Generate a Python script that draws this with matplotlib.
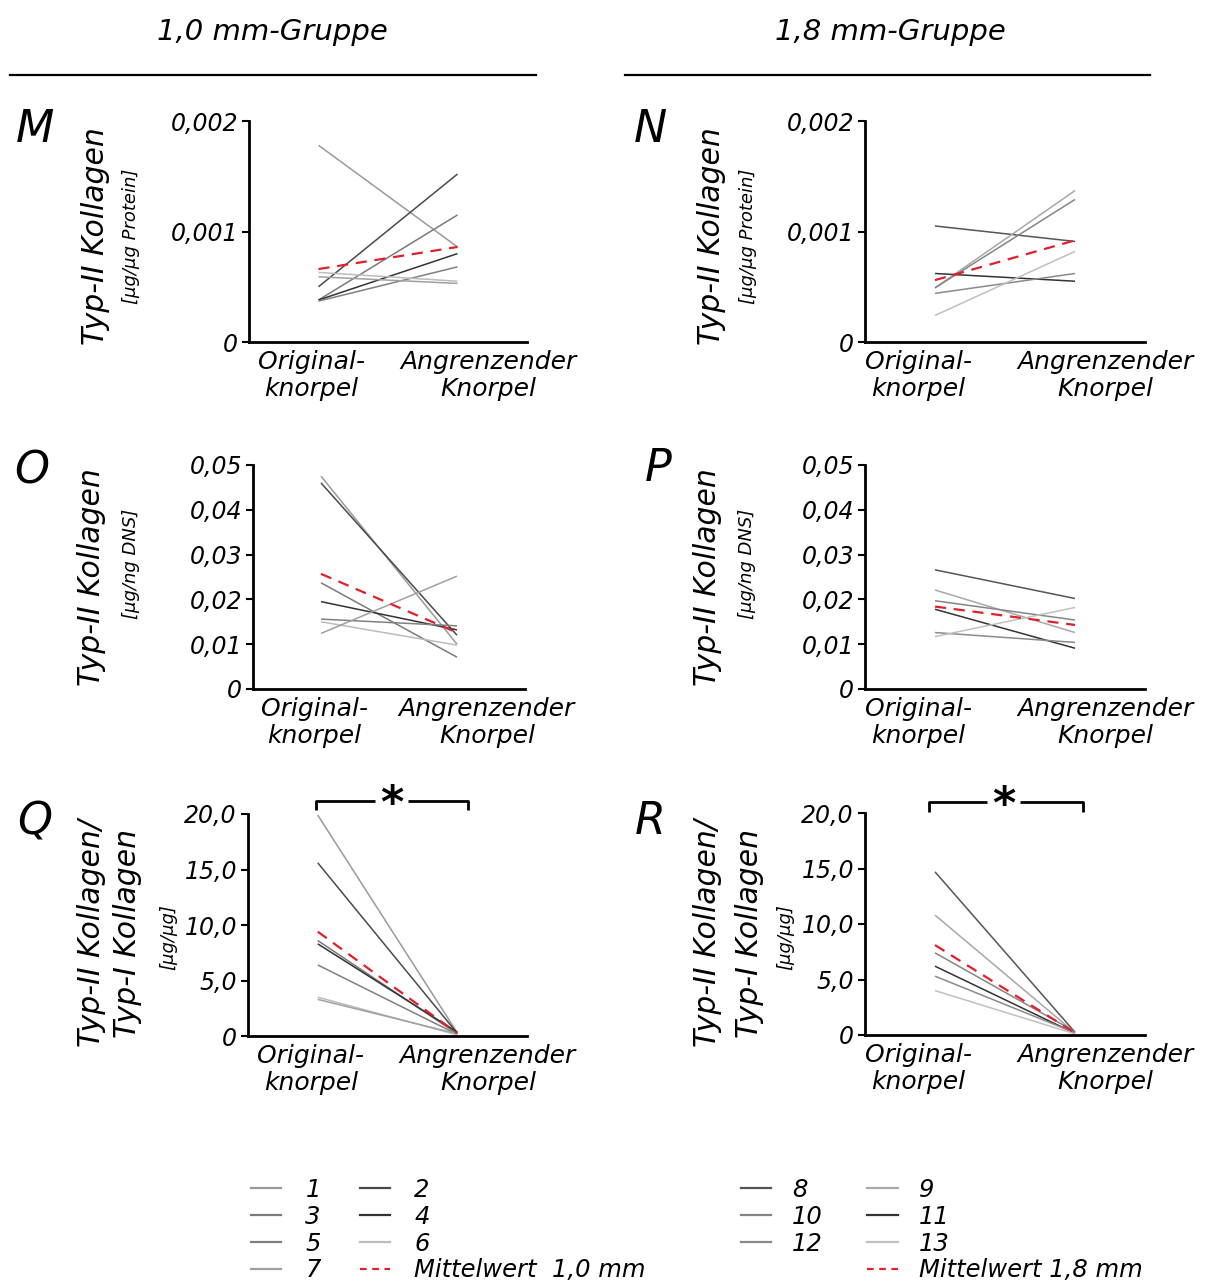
import matplotlib
matplotlib.use("Agg")
import matplotlib.pyplot as plt
from matplotlib.lines import Line2D

plt.rcParams['font.family'] = ['DejaVu Sans']
plt.rcParams['font.style'] = 'italic'

# data: value at "Original-knorpel" and at "Angrenzender Knorpel"
subj_10 = ['1', '2', '3', '4', '5', '6', '7']
subj_18 = ['8', '9', '10', '11', '12', '13']
col_10 = ['#9a9a9a', '#4a4a4a', '#7a7a7a', '#333333', '#808080', '#bcbcbc', '#a0a0a0']
col_18 = ['#555555', '#a8a8a8', '#858585', '#333333', '#8a8a8a', '#c0c0c0']

# Typ-II Kollagen [µg/µg Protein]
m_orig = [0.00178, 0.00050, 0.00038, 0.00038, 0.00037, 0.00063, 0.00059]
m_angr = [0.00086, 0.00152, 0.00115, 0.00080, 0.00068, 0.00055, 0.00053]
m_mean = [0.00066, 0.00086]
n_orig = [0.00105, 0.00049, 0.00049, 0.00062, 0.00044, 0.00024]
n_angr = [0.00091, 0.00137, 0.00129, 0.00055, 0.00062, 0.00082]
n_mean = [0.00056, 0.00092]

# Typ-II Kollagen [µg/ng DNS]
o_orig = [0.0475, 0.0460, 0.0237, 0.0195, 0.0156, 0.0150, 0.0124]
o_angr = [0.0100, 0.0120, 0.0071, 0.0132, 0.0141, 0.0098, 0.0252]
o_mean = [0.0257, 0.0126]
p_orig = [0.0266, 0.0221, 0.0197, 0.0178, 0.0126, 0.0117]
p_angr = [0.0202, 0.0126, 0.0154, 0.0091, 0.0104, 0.0182]
p_mean = [0.0184, 0.0143]

# Typ-II / Typ-I Kollagen [µg/µg]
q_orig = [19.9, 15.6, 8.6, 8.3, 6.4, 3.5, 3.3]
q_angr = [0.30, 0.25, 0.20, 0.35, 0.15, 0.10, 0.20]
q_mean = [9.4, 0.25]
r_orig = [14.7, 10.8, 7.4, 6.2, 5.3, 4.0]
r_angr = [0.25, 0.20, 0.30, 0.15, 0.20, 0.10]
r_mean = [8.1, 0.2]

xlabels = ['Original-\nknorpel', 'Angrenzender\nKnorpel']

W, H = 1205, 1283
fig = plt.figure(figsize=(W / 100, H / 100), dpi=100)


def add_ax(x0, y_top, x1, y_bot):
    return fig.add_axes([x0 / W, 1 - y_bot / H, (x1 - x0) / W, (y_bot - y_top) / H])


def panel(ax, orig, angr, mean, colors, ylim, yticks, yticklabels, xlab_pos):
    for o, a, c in zip(orig, angr, colors):
        ax.plot([0, 1], [o, a], color=c, lw=1.1, solid_capstyle='butt')
    ax.plot([0, 1], mean, color='#e0202a', lw=1.6, ls=(0, (5, 3.5)))
    ax.set_xlim(-0.5, 1.5)
    ax.set_ylim(*ylim)
    ax.set_yticks(yticks)
    ax.set_yticklabels(yticklabels, fontsize=17)
    ax.set_xticks(xlab_pos)
    ax.set_xticklabels(xlabels, fontsize=18, linespacing=1.12)
    ax.tick_params(axis='x', length=0, pad=6)
    ax.tick_params(axis='y', length=5, width=1.5, pad=3)
    for s in ['top', 'right']:
        ax.spines[s].set_visible(False)
    for s in ['left', 'bottom']:
        ax.spines[s].set_linewidth(2)


axM = add_ax(249, 121, 527, 342)
panel(axM, m_orig, m_angr, m_mean, col_10, (0, 0.002), [0, 0.001, 0.002],
      ['0', '0,001', '0,002'], [-0.05, 1.22])
axN = add_ax(865, 121, 1145, 342)
panel(axN, n_orig, n_angr, n_mean, col_18, (0, 0.002), [0, 0.001, 0.002],
      ['0', '0,001', '0,002'], [-0.12, 1.22])

dns_ticks = [0, 0.01, 0.02, 0.03, 0.04, 0.05]
dns_labels = ['0', '0,01', '0,02', '0,03', '0,04', '0,05']
axO = add_ax(253, 465, 525, 689)
panel(axO, o_orig, o_angr, o_mean, col_10, (0, 0.05), dns_ticks, dns_labels, [-0.05, 1.22])
axP = add_ax(865, 465, 1145, 689)
panel(axP, p_orig, p_angr, p_mean, col_18, (0, 0.05), dns_ticks, dns_labels, [-0.12, 1.22])

rat_ticks = [0, 5, 10, 15, 20]
rat_labels = ['0', '5,0', '10,0', '15,0', '20,0']
axQ = add_ax(248, 814, 527, 1036)
panel(axQ, q_orig, q_angr, q_mean, col_10, (0, 20), rat_ticks, rat_labels, [-0.05, 1.22])
axR = add_ax(865, 813, 1145, 1035)
panel(axR, r_orig, r_angr, r_mean, col_18, (0, 20), rat_ticks, rat_labels, [-0.12, 1.22])


def bracket(ax, x0, x1, y_low, y_high, xs):
    kw = dict(color='black', lw=2, clip_on=False, solid_capstyle='butt')
    ax.plot([x0, x0, xs - 0.12], [y_low, y_high, y_high], **kw)
    ax.plot([xs + 0.12, x1, x1], [y_high, y_high, y_low], **kw)
    ax.text(xs, y_high - 0.35, '*', ha='center', va='center', fontsize=32,
            fontweight='bold', fontstyle='normal', clip_on=False)


bracket(axQ, -0.01, 1.08, 20.4, 21.2, 0.53)
bracket(axR, -0.04, 1.06, 20.1, 21.0, 0.49)


def ylab(xc, yc, text, size):
    fig.text(xc / W, 1 - yc / H, text, rotation=90, ha='center', va='center',
             fontsize=size)


for x_main, x_sub, yc, ys, sub in [(95, 131, 236, 236, '[µg/µg Protein]'),
                                  (712, 748, 236, 236, '[µg/µg Protein]'),
                                  (92, 131, 577, 564, '[µg/ng DNS]'),
                                  (708, 747, 577, 564, '[µg/ng DNS]')]:
    ylab(x_main, yc, 'Typ-II Kollagen', 21.5)
    ylab(x_sub, ys, sub, 13)

for x1, x2, x3 in [(92, 128, 168), (708, 750, 785)]:
    ylab(x1, 933, 'Typ-II Kollagen/', 21.5)
    ylab(x2, 933, 'Typ-I Kollagen', 21.5)
    ylab(x3, 937, '[µg/µg]', 13)

for txt, x, y in [('M', 35, 130), ('N', 650, 130), ('O', 32, 471),
                  ('P', 658, 468), ('Q', 35, 822), ('R', 650, 822)]:
    fig.text(x / W, 1 - y / H, txt, ha='center', va='center', fontsize=32)

fig.text(272 / W, 1 - 32 / H, '1,0 mm-Gruppe', ha='center', va='center', fontsize=21)
fig.text(890 / W, 1 - 32 / H, '1,8 mm-Gruppe', ha='center', va='center', fontsize=21)
fig.add_artist(Line2D([10 / W, 536 / W], [1 - 75 / H] * 2, color='black', lw=1.6))
fig.add_artist(Line2D([625 / W, 1150 / W], [1 - 75 / H] * 2, color='black', lw=1.6))

# legends
h10 = [Line2D([], [], color=c, lw=1.6) for c in col_10]
mean10 = Line2D([], [], color='#e0202a', lw=1.6, ls=(0, (3, 2.5)))
order10 = [0, 2, 4, 6, 1, 3, 5]
handles_l = [h10[i] for i in order10] + [mean10]
labels_l = [subj_10[i] for i in order10] + ['Mittelwert  1,0 mm']
fig.legend(handles_l, labels_l, ncol=2, loc='upper left',
           bbox_to_anchor=(241 / W, 1 - 1168 / H), frameon=False, fontsize=17.5,
           handlelength=1.25, handletextpad=1.0, columnspacing=1.6,
           labelspacing=0.12, borderaxespad=0)

h18 = [Line2D([], [], color=c, lw=1.6) for c in col_18]
mean18 = Line2D([], [], color='#e8202a', lw=1.6, ls=(0, (3, 2.5)))
blank = Line2D([], [], color='none')
handles_r = [h18[0], h18[2], h18[4], blank, h18[1], h18[3], h18[5], mean18]
labels_r = ['8', '10', '12', '', '9', '11', '13', 'Mittelwert 1,8 mm']
fig.legend(handles_r, labels_r, ncol=2, loc='upper left',
           bbox_to_anchor=(731 / W, 1 - 1168 / H), frameon=False, fontsize=17.5,
           handlelength=1.25, handletextpad=0.85, columnspacing=1.85,
           labelspacing=0.12, borderaxespad=0)

fig.savefig('out.png', dpi=100)
